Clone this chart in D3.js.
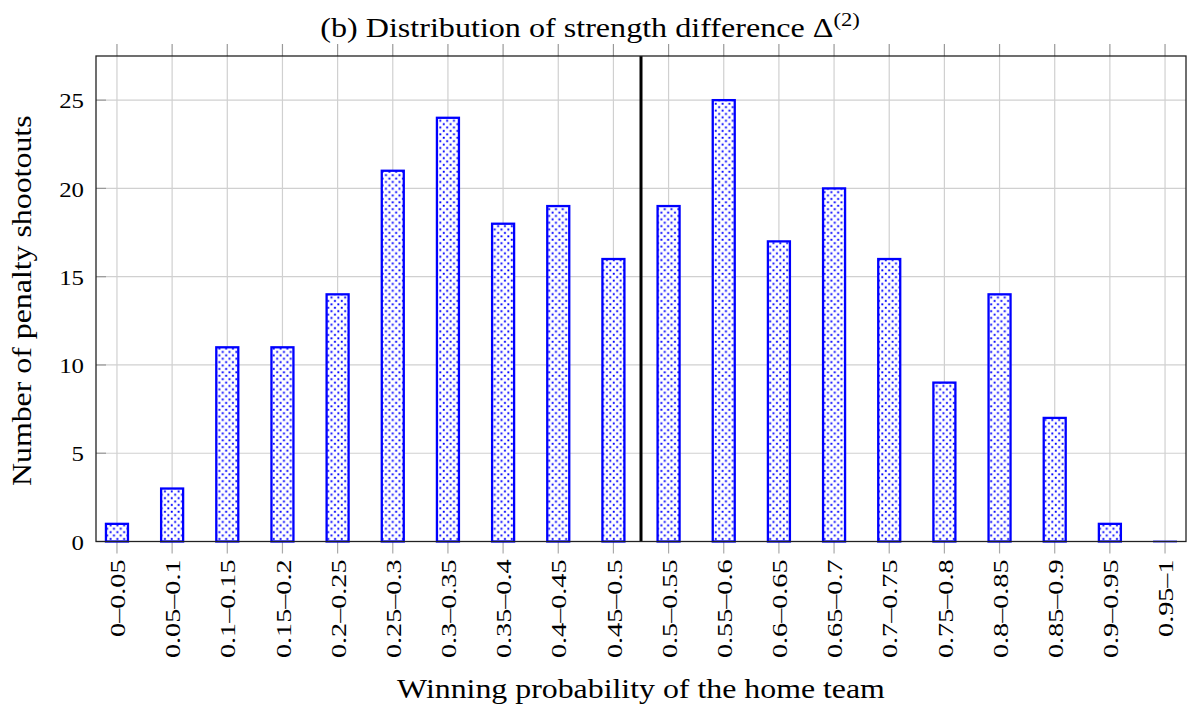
<!DOCTYPE html>
<html><head><meta charset="utf-8">
<script src="https://cdn.jsdelivr.net/npm/d3@7"></script>
<style>
html,body{margin:0;padding:0;background:#fff;}
svg{display:block;}
text{font-family:"Liberation Serif","DejaVu Serif",serif;fill:#000;}
</style></head>
<body>
<svg id="chart" width="1190" height="709"></svg>
<script>
const categories = ["0–0.05","0.05–0.1","0.1–0.15","0.15–0.2","0.2–0.25","0.25–0.3","0.3–0.35","0.35–0.4","0.4–0.45","0.45–0.5","0.5–0.55","0.55–0.6","0.6–0.65","0.65–0.7","0.7–0.75","0.75–0.8","0.8–0.85","0.85–0.9","0.9–0.95","0.95–1"];
const counts = [1,3,11,11,14,21,24,18,19,16,19,25,17,20,16,9,14,7,1,0];
const yTicks = [0,5,10,15,20,25];
const yMax = 27.5;
const splitAfter = "0.45–0.5";
const titleText = "(b) Distribution of strength difference Δ";
const xLabel = "Winning probability of the home team";
const yLabel = "Number of penalty shootouts";

const svg = d3.select("#chart");
const L = 96, R = 1186, T = 56, B = 541.5;

const x = d3.scalePoint().domain(categories).range([L, R]).padding(0.38);
const y = d3.scaleLinear().domain([0, yMax]).range([B, T]);

// pattern
const defs = svg.append("defs");
const P = 6.8;
const pat = defs.append("pattern").attr("id","dots").attr("patternUnits","userSpaceOnUse")
  .attr("width",P).attr("height",P);
pat.append("rect").attr("width",P).attr("height",P).attr("fill","#fff");
pat.append("rect").attr("x",0.8).attr("y",0.8).attr("width",1.9).attr("height",1.9).attr("fill","#0000ff");
pat.append("rect").attr("x",4.2).attr("y",4.2).attr("width",1.9).attr("height",1.9).attr("fill","#0000ff");

// grid
const grid = svg.append("g");
grid.selectAll("line.v").data(categories).join("line")
  .attr("x1", d=>x(d)).attr("x2", d=>x(d)).attr("y1", T).attr("y2", B)
  .attr("stroke","#d0d0d0").attr("stroke-width",1.2);
grid.selectAll("line.h").data(yTicks).join("line")
  .attr("x1", L).attr("x2", R).attr("y1", d=>y(d)).attr("y2", d=>y(d))
  .attr("stroke","#d0d0d0").attr("stroke-width",1.2);
grid.selectAll("line.tt").data(categories).join("line")
  .attr("x1", d=>x(d)).attr("x2", d=>x(d)).attr("y1", T-12).attr("y2", T)
  .attr("stroke","#999").attr("stroke-width",1.2);
grid.selectAll("line.tb").data(categories).join("line")
  .attr("x1", d=>x(d)).attr("x2", d=>x(d)).attr("y1", B).attr("y2", B+12)
  .attr("stroke","#aaa").attr("stroke-width",1.2);
grid.selectAll("line.yt").data(yTicks).join("line")
  .attr("x1", L).attr("x2", L+10).attr("y1", d=>y(d)).attr("y2", d=>y(d))
  .attr("stroke","#999").attr("stroke-width",1.2);

// bars
const bw = 22;
const bars = svg.append("g");
bars.selectAll("rect").data(counts.map((v,i)=>({v,c:categories[i]})).filter(d=>d.v>0)).join("rect")
  .attr("x", d=>x(d.c) - bw/2)
  .attr("y", d=>y(d.v))
  .attr("width", bw)
  .attr("height", d=>y(0)-y(d.v))
  .attr("fill","url(#dots)")
  .attr("stroke","#0000ff")
  .attr("stroke-width",2.3);
// zero-height bars drawn as flat outline
bars.selectAll("line").data(counts.map((v,i)=>({v,c:categories[i]})).filter(d=>d.v===0)).join("line")
  .attr("x1", d=>x(d.c) - bw/2 - 1).attr("x2", d=>x(d.c) + bw/2 + 1)
  .attr("y1", d=>y(d.v)).attr("y2", d=>y(d.v))
  .attr("stroke","#6a6aff").attr("stroke-width",2.3);

// split line
const si = categories.indexOf(splitAfter);
const sx = (x(categories[si]) + x(categories[si+1]))/2;
svg.append("line").attr("x1",sx).attr("x2",sx).attr("y1",T).attr("y2",B)
  .attr("stroke","#000").attr("stroke-width",3);

// frame
svg.append("rect").attr("x",L).attr("y",T).attr("width",R-L).attr("height",B-T)
  .attr("fill","none").attr("stroke","#222").attr("stroke-width",1.3);

// y axis labels
const yAxis = d3.axisLeft(y).tickValues(yTicks).tickSize(0).tickPadding(0);
const gy = svg.append("g").attr("transform",`translate(${L},0)`).call(yAxis);
gy.select(".domain").remove();
const ySX = 1.13;
gy.selectAll("text").style("font-size","22px").style("font-family","Liberation Serif, serif")
  .attr("x",0).attr("dy","0.35em")
  .attr("transform", d=>`translate(-12,0) scale(${ySX},1)`);

// x axis labels
const xAxis = d3.axisBottom(x).tickSize(0).tickPadding(0);
const gx = svg.append("g").attr("transform",`translate(0,${B})`).call(xAxis);
gx.select(".domain").remove();
const xSX = 1.28;
gx.selectAll("text").style("font-size","22px").style("font-family","Liberation Serif, serif")
  .attr("text-anchor","end").attr("transform",`rotate(-90) translate(-18,0) scale(${xSX},1)`)
  .attr("x",0).attr("y",0).attr("dy","0.35em");

// title (centred on full figure)
const tg = svg.append("g").attr("transform","translate(590,37) scale(1.19,1)");
const title = tg.append("text").attr("x",0).attr("y",0).attr("text-anchor","middle")
  .style("font-size","27px");
title.append("tspan").text(titleText);
title.append("tspan").attr("dy",-11).style("font-size","19px").text("(2)");

// x label
svg.append("g").attr("transform",`translate(${(L+R)/2},698) scale(1.18,1)`)
  .append("text").attr("text-anchor","middle").style("font-size","27px").text(xLabel);
// y label
svg.append("g").attr("transform",`translate(31,${(T+B)/2 + 2}) rotate(-90) scale(1.18,1)`)
  .append("text").attr("text-anchor","middle").style("font-size","27px").text(yLabel);
</script>
</body></html>
